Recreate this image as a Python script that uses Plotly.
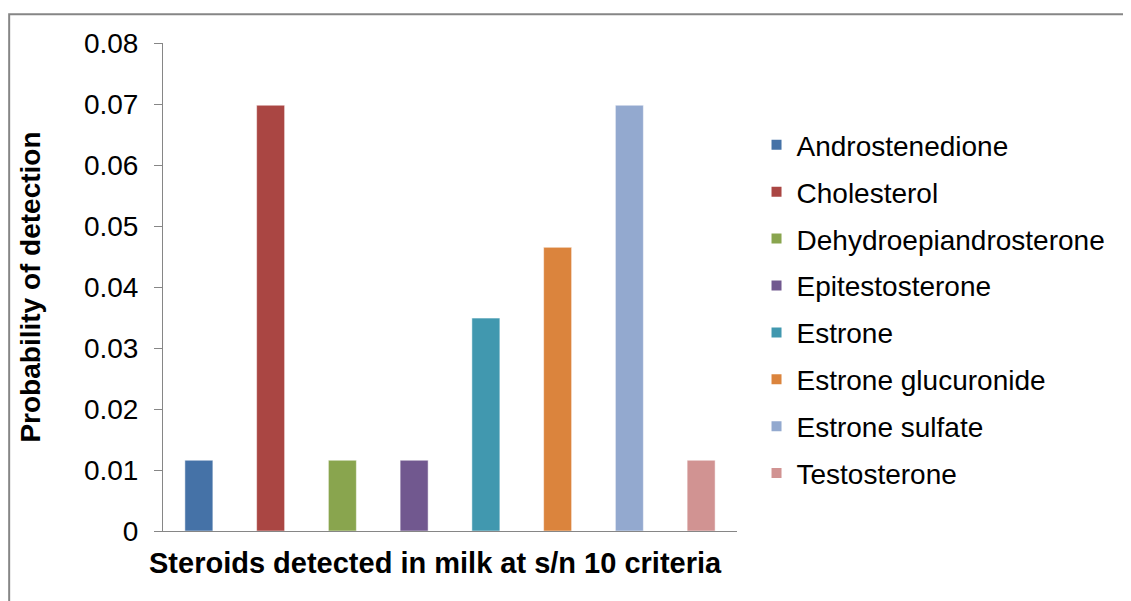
import plotly.graph_objects as go

steroids = ["Androstenedione", "Cholesterol", "Dehydroepiandrosterone", "Epitestosterone",
            "Estrone", "Estrone glucuronide", "Estrone sulfate", "Testosterone"]
probability = [0.0116, 0.0698, 0.0116, 0.0116, 0.0349, 0.0465, 0.0698, 0.0116]
colors = ["#4572A7", "#AA4643", "#89A54E", "#71588F",
          "#4198AF", "#DB843D", "#93A9CF", "#D19392"]
y_ticks = [0, 0.01, 0.02, 0.03, 0.04, 0.05, 0.06, 0.07, 0.08]

font = "Liberation Sans, Arial, sans-serif"
axis_grey = "#868686"

fig = go.Figure()
for name, val, col in zip(steroids, probability, colors):
    fig.add_trace(go.Bar(x=[name], y=[val], name=name, legendgroup=name,
                         marker=dict(color=col, line=dict(color="white", width=0.5)),
                         width=0.39))

fig.update_layout(
    width=1131, height=601,
    margin=dict(l=155, r=402, t=35, b=78),
    paper_bgcolor="white", plot_bgcolor="white",
    barmode="overlay",
    font=dict(family=font, color="black"),
    showlegend=True,
    legend=dict(x=1.034, y=0.842, xanchor="left", yanchor="top",
                font=dict(size=28), tracegroupgap=7.5, itemsizing="constant"),
    xaxis=dict(showticklabels=False, ticks="", showline=True, linecolor=axis_grey,
               linewidth=1, showgrid=False, zeroline=False),
    yaxis=dict(range=[0, 0.08], tickvals=y_ticks, ticktext=[f"{v:g}" for v in y_ticks],
               ticks="outside", ticklen=8, tickcolor=axis_grey, showline=True,
               linecolor=axis_grey, linewidth=1, showgrid=False, zeroline=False,
               tickfont=dict(size=28), ticklabelstandoff=10,
               title=dict(text="<b>Probability of detection</b>", font=dict(size=28),
                          standoff=35)),
)

# x axis title sits a little left of the plot centre, as in the original
fig.add_annotation(text="<b>Steroids detected in milk at s/n 10 criteria</b>",
                   xref="paper", yref="paper", x=0.474, y=-0.066,
                   xanchor="center", yanchor="middle", showarrow=False,
                   font=dict(size=29))

# outer chart border (top and left edges visible)
fig.add_shape(type="rect", xref="paper", yref="paper",
              x0=-0.268, y0=-0.3, x1=1.8, y1=1.0588,
              line=dict(color=axis_grey, width=2), layer="below")

fig.write_html("out.html")
